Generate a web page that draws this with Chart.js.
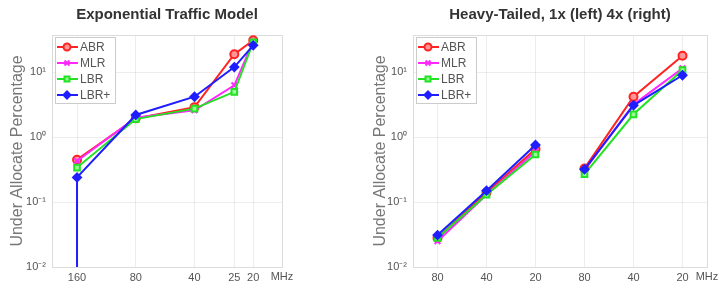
<!DOCTYPE html>
<html lang="en">
<head>
<meta charset="UTF-8">
<title>Under Allocate Percentage</title>
<script src="https://cdn.jsdelivr.net/npm/chart.js"></script>
<style>
    body { margin: 0; background: #fff; }
    #wrap { position: relative; width: 723px; height: 285px; }
    .box { position: absolute; top: 0; height: 285px; }
    #leftBox { left: 0; width: 363px; }
    #rightBox { left: 363px; width: 360px; }
</style>
</head>
<body>
<div id="wrap">
    <div class="box" id="leftBox"><canvas id="expChart"></canvas></div>
    <div class="box" id="rightBox"><canvas id="heavyChart"></canvas></div>
</div>
<script>
// --- data ---
const seriesNames = ['ABR', 'MLR', 'LBR', 'LBR+'];

// left: exponential traffic model, bandwidth in MHz
const bwLeft = [160, 80, 40, 25, 20];
const expABR  = [0.45, 1.95, 2.9, 19, 31];
const expMLR  = [0.43, 2.0, 2.6, 6.3, 30];
const expLBR  = [0.34, 1.9, 2.75, 5.0, 29];
const expLBRp = [0.24, 2.2, 4.2, 12, 26];
const expLBRpFloor = 0.001; // LBR+ at 160 MHz also runs off the bottom of the axis

// right: heavy-tailed, 1x (first three) and 4x (last three)
const bwRight = ['80', '40', '20', '80', '40', '20'];
const htABR  = [0.028, 0.14, 0.66, 0.33, 4.2, 18];
const htMLR  = [0.025, 0.13, 0.60, 0.31, 3.2, 11.5];
const htLBR  = [0.028, 0.13, 0.54, 0.27, 2.25, 10.8];
const htLBRp = [0.031, 0.15, 0.76, 0.32, 3.1, 9.0];

const yTicks = [0.01, 0.1, 1, 10];
const yTickText = { 0.01: '10⁻²', 0.1: '10⁻¹', 1: '10⁰', 10: '10¹' };

// --- style ---
const colors = ['rgb(255,35,35)', 'rgb(255,40,255)', 'rgb(35,225,35)', 'rgb(30,30,255)'];
const fills = ['rgb(255,150,150)', 'rgb(255,40,255)', 'rgb(150,250,150)', 'rgb(30,30,255)'];
const markers = ['circle', 'crossRot', 'rect', 'rectRot'];
const FONT = 'Arial, "Liberation Sans", sans-serif';

function makeDataset(i, data) {
    return {
        label: seriesNames[i],
        data: data,
        borderColor: colors[i],
        backgroundColor: fills[i],
        pointBackgroundColor: fills[i],
        pointBorderColor: colors[i],
        pointStyle: markers[i],
        pointRadius: 4,
        pointBorderWidth: 2,
        borderWidth: 2,
        order: 3 - i
    };
}

// legend box drawn inside the plot area, MATLAB style
const insideLegend = {
    id: 'insideLegend',
    afterDatasetsDraw(chart) {
        const ctx = chart.ctx;
        const a = chart.chartArea;
        const x0 = a.left + 3, y0 = a.top + 2;
        const w = 60, h = 66;
        ctx.save();
        ctx.fillStyle = '#fff';
        ctx.fillRect(x0, y0, w, h);
        ctx.strokeStyle = '#ccc';
        ctx.lineWidth = 1;
        ctx.strokeRect(x0 + 0.5, y0 + 0.5, w, h);
        ctx.font = '12px ' + FONT;
        ctx.textBaseline = 'middle';
        for (let i = 0; i < 4; i++) {
            const cy = y0 + 10 + i * 16;
            ctx.strokeStyle = colors[i];
            ctx.lineWidth = 2;
            ctx.beginPath();
            ctx.moveTo(x0 + 2, cy);
            ctx.lineTo(x0 + 23, cy);
            ctx.stroke();
            ctx.fillStyle = fills[i];
            Chart.helpers.drawPoint(ctx, { pointStyle: markers[i], radius: 3.5, borderWidth: 2 }, x0 + 12, cy);
            ctx.fillStyle = '#555';
            ctx.fillText(seriesNames[i], x0 + 25, cy + 1);
        }
        ctx.restore();
    }
};

// thin frame round the axes, the title over the plot area and the "MHz" unit
const frame = {
    id: 'frame',
    beforeDatasetsDraw(chart) {
        const ctx = chart.ctx;
        const a = chart.chartArea;
        ctx.save();
        ctx.strokeStyle = '#dcdcdc';
        ctx.lineWidth = 1;
        ctx.strokeRect(Math.round(a.left) + 0.5, Math.round(a.top) + 0.5,
            Math.round(a.right - a.left), Math.round(a.bottom - a.top));
        ctx.restore();
    },
    afterDraw(chart, args, opts) {
        const ctx = chart.ctx;
        const a = chart.chartArea;
        ctx.save();
        ctx.font = 'bold 15px ' + FONT;
        ctx.fillStyle = '#333';
        ctx.textAlign = 'center';
        ctx.textBaseline = 'middle';
        ctx.fillText(opts.title, (a.left + a.right) / 2, 15);
        ctx.font = '11px ' + FONT;
        ctx.fillStyle = '#555';
        ctx.textBaseline = 'top';
        ctx.fillText('MHz', a.right, a.bottom + 4);
        ctx.restore();
    }
};

function gridOpts() {
    return { color: 'rgba(0,0,0,0.07)', drawTicks: false };
}

function yScale(axisWidth) {
    return {
        type: 'logarithmic',
        min: 0.01,
        max: 37.5,
        afterBuildTicks: s => { s.ticks = yTicks.map(v => ({ value: v })); },
        afterFit: s => { s.width = axisWidth; },
        ticks: {
            callback: v => yTickText[v] || '',
            font: { family: FONT, size: 11 },
            color: '#555',
            padding: 6
        },
        grid: gridOpts(),
        border: { color: '#aaa' },
        title: {
            display: true,
            text: 'Under Allocate Percentage',
            font: { family: FONT, size: 16 },
            color: '#777',
            padding: { top: 8, bottom: 0 }
        }
    };
}

// --- left chart ---
const leftSets = [expABR, expMLR, expLBR, expLBRp].map((vals, i) =>
    makeDataset(i, bwLeft.map((bw, k) => ({ x: bw, y: vals[k] }))));
leftSets[3].data.unshift({ x: bwLeft[0], y: expLBRpFloor });
leftSets[3].pointRadius = c => (c.dataIndex === 0 ? 0 : 4);

new Chart(document.getElementById('expChart'), {
    type: 'line',
    data: { datasets: leftSets },
    options: {
        responsive: true,
        maintainAspectRatio: false,
        animation: false,
        layout: { padding: { left: 0, right: 81, top: 35, bottom: 0 } },
        plugins: {
            legend: { display: false },
            tooltip: { enabled: false },
            frame: { title: 'Exponential Traffic Model' }
        },
        scales: {
            x: {
                type: 'logarithmic',
                reverse: true,
                min: 14.24,
                max: 215,
                afterBuildTicks: s => { s.ticks = bwLeft.map(v => ({ value: v })); },
                afterFit: s => { s.height = 18; },
                ticks: {
                    callback: v => String(v),
                    font: { family: FONT, size: 11 },
                    color: '#555',
                    padding: 4,
                    maxRotation: 0,
                    autoSkip: false
                },
                grid: gridOpts(),
                border: { color: '#aaa' }
            },
            y: yScale(52)
        }
    },
    plugins: [frame, insideLegend]
});

// --- right chart ---
const skipGap = { borderColor: c => (c.p0DataIndex === 2 ? 'rgba(0,0,0,0)' : undefined) };
const rightSets = [htABR, htMLR, htLBR, htLBRp].map((vals, i) => {
    const ds = makeDataset(i, vals);
    ds.segment = skipGap;
    return ds;
});

new Chart(document.getElementById('heavyChart'), {
    type: 'line',
    data: { labels: bwRight, datasets: rightSets },
    options: {
        responsive: true,
        maintainAspectRatio: false,
        animation: false,
        layout: { padding: { left: 0, right: 16, top: 35, bottom: 0 } },
        plugins: {
            legend: { display: false },
            tooltip: { enabled: false },
            frame: { title: 'Heavy-Tailed, 1x (left) 4x (right)' }
        },
        scales: {
            x: {
                type: 'category',
                offset: true,
                afterFit: s => { s.height = 18; },
                ticks: {
                    font: { family: FONT, size: 11 },
                    color: '#555',
                    padding: 4,
                    maxRotation: 0,
                    autoSkip: false
                },
                grid: Object.assign(gridOpts(), { offset: false }),
                border: { color: '#aaa' }
            },
            y: yScale(50)
        }
    },
    plugins: [frame, insideLegend]
});
</script>
</body>
</html>
